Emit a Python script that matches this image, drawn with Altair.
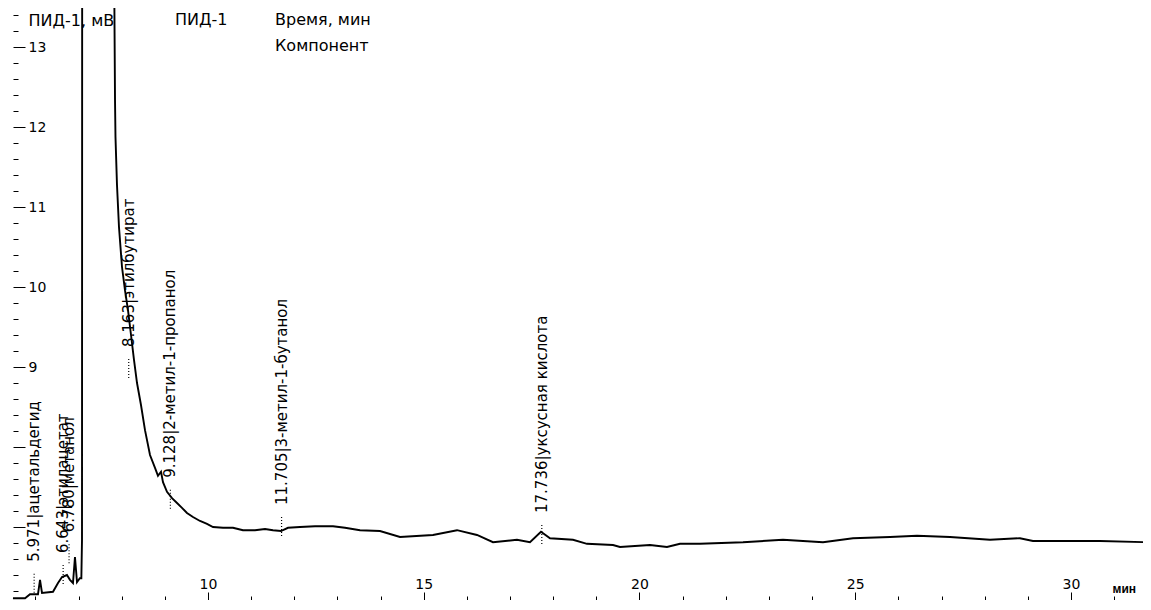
import altair as alt
import pandas as pd

# ---- chromatogram trace (time, min / signal, mV) ----
trace_time = [5.48, 5.76, 5.875, 6.06, 6.107, 6.153, 6.408, 6.524, 6.617, 6.731,
              6.801, 6.871, 6.917, 6.964, 7.03, 7.065, 7.08, 7.085, 7.46, 7.80,
              7.845, 7.856, 7.891, 7.937, 8.007, 8.076, 8.146, 8.216, 8.285, 8.355,
              8.447, 8.54, 8.656, 8.772, 8.841, 8.911, 8.957, 9.05, 9.166, 9.282,
              9.397, 9.513, 9.652, 9.815, 9.977, 10.116, 10.348, 10.579, 10.811, 11.089,
              11.321, 11.506, 11.692, 11.854, 12.132, 12.48, 12.897, 13.175, 13.523, 13.986,
              14.45, 15.214, 15.771, 16.234, 16.605, 17.161, 17.462, 17.717, 17.926, 18.459,
              18.783, 19.386, 19.548, 20.243, 20.637, 20.939, 21.402, 22.399, 23.326, 24.253,
              24.948, 25.805, 26.431, 27.196, 28.123, 28.818, 29.119, 30.672, 31.761]
trace_mv = [6.11, 6.11, 6.16, 6.16, 6.34, 6.175, 6.19, 6.30, 6.375, 6.40,
            6.34, 6.30, 6.625, 6.31, 6.36, 6.36, 6.84, 16.0, 45.0, 16.0,
            12.34, 11.875, 11.275, 10.75, 10.25, 9.96, 9.71, 9.40, 9.09, 8.80,
            8.525, 8.21, 7.90, 7.74, 7.64, 7.69, 7.56, 7.44, 7.36, 7.30,
            7.24, 7.175, 7.125, 7.075, 7.04, 7.00, 6.99, 6.99, 6.96, 6.96,
            6.975, 6.96, 6.95, 6.99, 7.00, 7.01, 7.01, 6.99, 6.96, 6.95,
            6.875, 6.90, 6.96, 6.90, 6.81, 6.84, 6.81, 6.94, 6.86, 6.84,
            6.79, 6.775, 6.75, 6.775, 6.75, 6.79, 6.79, 6.81, 6.84, 6.81,
            6.86, 6.875, 6.89, 6.875, 6.84, 6.86, 6.825, 6.825, 6.81]

# ---- identified peaks ----
peak_time = [5.971, 6.643, 6.780, 8.163, 9.128, 11.705, 17.736]
peak_name = ["ацетальдегид", "этилацетат", "метанол", "этилбутират",
             "2-метил-1-пропанол", "3-метил-1-бутанол", "уксусная кислота"]
peak_level = [6.29, 6.40, 6.66, 8.975, 7.34, 7.00, 6.90]

# ---- axis ticks and header texts ----
x_ticks = list(range(6, 32))
y_ticks = [round(6.2 + 0.2 * i, 1) for i in range(37)]
x_domain = [5.365, 31.669]
y_domain = [6.0875, 13.4875]
header_text = ["ПИД-1", "Время, мин", "Компонент"]

W, H = 1135, 592
FONT = "DejaVu Sans"

trace_df = pd.DataFrame({"t": trace_time, "mv": trace_mv})
peak_df = pd.DataFrame({
    "t": peak_time,
    "mv": peak_level,
    "label": [f"{t:.3f}|{n}" for t, n in zip(peak_time, peak_name)],
})

x_enc = alt.X(
    "t:Q",
    scale=alt.Scale(domain=x_domain, nice=False, zero=False),
    axis=alt.Axis(
        orient="top", offset=-H, values=x_ticks, tickCount=200,
        domain=False, grid=False,
        tickColor="black", tickWidth=1,
        tickSize={"condition": {"test": "datum.value % 5 === 0", "value": 8}, "value": 4},
        labelExpr="datum.value % 5 === 0 ? '' + datum.value : ''",
        labelFont=FONT, labelFontSize=14, labelColor="black", labelPadding=1,
        labelOverlap=False, labelFlush=False,
        title="мин", titleX=1104, titleY=-8, titleAlign="left",
        titleBaseline="alphabetic", titleAngle=0, titleFont="Liberation Sans",
        titleFontSize=12, titleFontWeight="bold", titleColor="black",
    ),
)
y_enc = alt.Y(
    "mv:Q",
    scale=alt.Scale(domain=y_domain, nice=False, zero=False),
    axis=alt.Axis(
        orient="right", offset=-(W - 5), values=y_ticks, tickCount=200,
        domain=False, grid=False,
        tickColor="black", tickWidth=1,
        tickSize={"condition": {"test": "abs(datum.value - round(datum.value)) < 0.01", "value": 12},
                  "value": 5},
        labelExpr="(datum.value > 8.99 && abs(datum.value - round(datum.value)) < 0.01) ? '' + round(datum.value) : ''",
        labelFont=FONT, labelFontSize=14, labelColor="black", labelPadding=3,
        labelOverlap=False, labelFlush=False,
        title="ПИД-1, мВ", titleX=15, titleY=17, titleAlign="left",
        titleBaseline="alphabetic", titleAngle=0, titleFont=FONT,
        titleFontSize=16, titleFontWeight="normal", titleColor="black",
    ),
)

line = alt.Chart(trace_df).mark_line(color="black", strokeWidth=1.9, clip=True).encode(
    x=x_enc, y=y_enc
)

markers = alt.Chart(peak_df).mark_point(
    shape="M0,-1L0,1", size=400, filled=False, color="black",
    strokeWidth=1.2, strokeDash=[1, 2], opacity=1,
).encode(x="t:Q", y="mv:Q")

labels = alt.Chart(peak_df).mark_text(
    angle=270, align="left", baseline="middle", dx=22,
    font=FONT, fontSize=15, color="black",
).encode(x="t:Q", y="mv:Q", text="label:N")

hdr_df = pd.DataFrame({"txt": header_text})
hdr1 = alt.Chart(hdr_df).transform_filter(alt.datum.txt == header_text[0]).mark_text(
    align="left", baseline="alphabetic", font=FONT, fontSize=16, color="black"
).encode(x=alt.value(167), y=alt.value(17), text="txt:N")
hdr2 = alt.Chart(hdr_df).transform_filter(alt.datum.txt == header_text[1]).mark_text(
    align="left", baseline="alphabetic", font=FONT, fontSize=16, color="black"
).encode(x=alt.value(267), y=alt.value(17), text="txt:N")
hdr3 = alt.Chart(hdr_df).transform_filter(alt.datum.txt == header_text[2]).mark_text(
    align="left", baseline="alphabetic", font=FONT, fontSize=16, color="black"
).encode(x=alt.value(267), y=alt.value(43), text="txt:N")

chart = alt.layer(line, markers, labels, hdr1, hdr2, hdr3).properties(
    width=W, height=H,
    autosize=alt.AutoSizeParams(type="none"),
    padding=0,
    background="white",
).configure_view(stroke=None)

chart.save("out.html", embed_options={"renderer": "svg", "actions": False})
